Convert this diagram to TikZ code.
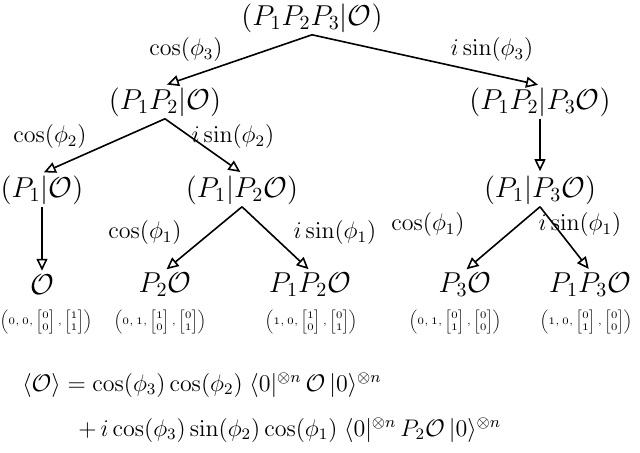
\documentclass[tikz,border=0pt]{standalone}
\usepackage{amsmath}
\usetikzlibrary{arrows.meta}
\tikzset{
 st/.style={font=\Large, inner sep=1pt},
 lb/.style={font=\large, inner sep=0pt},
 eq/.style={font=\large, inner sep=0pt},
 tp/.style={font=\tiny, inner sep=0pt},
 ar/.style={thick, -{Triangle[open,length=6pt,width=5.5pt]}, shorten >=1pt},
}
\newcommand{\tup}[6]{$\left(#1,#2,\begin{bmatrix}#3\\#4\end{bmatrix},\begin{bmatrix}#5\\#6\end{bmatrix}\right)$}
\begin{document}
\begin{tikzpicture}[x=0.5pt,y=-0.5pt]
\useasboundingbox (0,0) rectangle (640,453);
\node[st] (r) at (312,18) {$(P_1P_2P_3|\mathcal{O})$};
\node[st] (a) at (165,102) {$(P_1P_2|\mathcal{O})$};
\node[st] (b) at (540,102) {$(P_1P_2|P_3\mathcal{O})$};
\node[st] (c) at (42,190) {$(P_1|\mathcal{O})$};
\node[st] (d) at (242,190) {$(P_1|P_2\mathcal{O})$};
\node[st] (e) at (540,190) {$(P_1|P_3\mathcal{O})$};
\node[st] (f) at (42,285) {$\mathcal{O}$};
\node[st] (g) at (165,285) {$P_2\mathcal{O}$};
\node[st] (h) at (310,285) {$P_1P_2\mathcal{O}$};
\node[st] (k) at (465,285) {$P_3\mathcal{O}$};
\node[st] (m) at (590,285) {$P_1P_3\mathcal{O}$};
\draw[ar] (r.south) -- (a.north);
\draw[ar] (r.south) -- (b.north);
\draw[ar] (a.south) -- (c.north);
\draw[ar] (a.south) -- (d.north);
\draw[ar] (b.south) -- (e.north);
\draw[ar] (c.south) -- (f.north);
\draw[ar] (d.south) -- (g.north);
\draw[ar] (d.south) -- (h.north);
\draw[ar] (e.south) -- (k.north);
\draw[ar] (e.south) -- (m.north);
\node[lb] (l1) at (186,50) {$\cos(\phi_3)$};
\node[lb] (l2) at (492,50) {$i\sin(\phi_3)$};
\node[lb] (l3) at (50,137) {$\cos(\phi_2)$};
\node[lb] (l4) at (233,137) {$i\sin(\phi_2)$};
\node[lb] (l5) at (145,233) {$\cos(\phi_1)$};
\node[lb] (l6) at (335,233) {$i\sin(\phi_1)$};
\node[lb] (l7) at (428,225) {$\cos(\phi_1)$};
\node[lb] (l8) at (580,225) {$i\sin(\phi_1)$};
\node[tp] (t1) at (46,322) {\tup{0}{0}{0}{0}{1}{1}};
\node[tp] (t2) at (160,322) {\tup{0}{1}{1}{0}{0}{1}};
\node[tp] (t3) at (311,322) {\tup{1}{0}{1}{0}{0}{1}};
\node[tp] (t4) at (455,322) {\tup{0}{1}{0}{1}{0}{0}};
\node[tp] (t5) at (586,322) {\tup{1}{0}{0}{1}{0}{0}};
\node[eq,anchor=west] (e1) at (22,385) {$\langle\mathcal{O}\rangle = \cos(\phi_3)\cos(\phi_2)\;\langle 0|^{\otimes n}\,\mathcal{O}\,|0\rangle^{\otimes n}$};
\node[eq,anchor=west] (e2) at (78,430) {$+\,i\cos(\phi_3)\sin(\phi_2)\cos(\phi_1)\;\langle 0|^{\otimes n}\,P_2\mathcal{O}\,|0\rangle^{\otimes n}$};
\end{tikzpicture}
\end{document}
